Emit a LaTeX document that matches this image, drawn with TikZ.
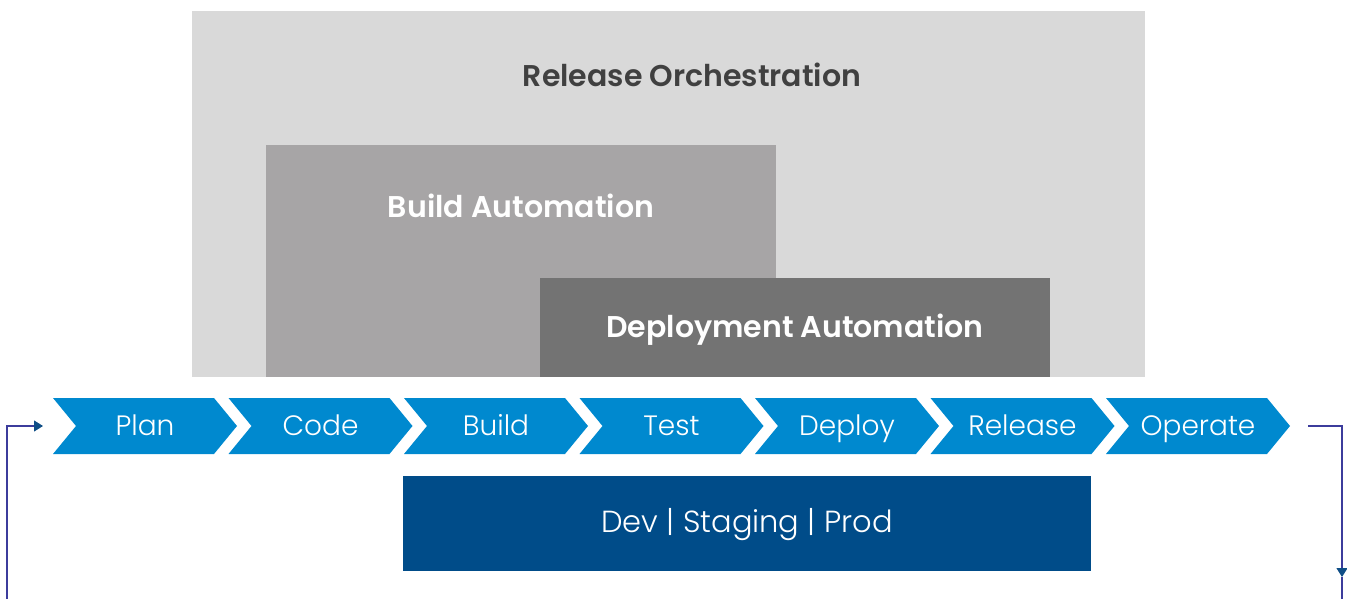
\documentclass[tikz,border=0pt]{standalone}
\usepackage{fontspec}
\setmainfont{Poppins}[UprightFont=* Light, BoldFont=* SemiBold]
\usetikzlibrary{arrows.meta}
\definecolor{orchgray}{HTML}{D9D9D9}
\definecolor{buildgray}{HTML}{A7A5A6}
\definecolor{deploygray}{HTML}{737373}
\definecolor{headtext}{HTML}{404040}
\definecolor{stageblue}{HTML}{0089CF}
\definecolor{envblue}{HTML}{004C89}
\definecolor{loopline}{HTML}{3C3C9C}
\definecolor{looptip}{HTML}{0F4E86}
\tikzset{
  layer/.style={anchor=north west, inner sep=0pt, outer sep=0pt},
  layerlabel/.style={anchor=base, inner sep=0pt, font=\bfseries\fontsize{30}{34}\selectfont},
  stagelabel/.style={anchor=base, inner sep=0pt, text=white, font=\fontsize{28}{32}\selectfont},
  envlabel/.style={anchor=base, inner sep=0pt, text=white, font=\fontsize{30.5}{34}\selectfont},
  chevron/.style={fill=stageblue},
  loop/.style={draw=loopline, line width=1.2pt},
  looptipstyle/.style={-{Triangle[length=9pt,width=11pt,fill=looptip,color=looptip]}}
}
\begin{document}
\begin{tikzpicture}[x=1pt,y=-1pt]
\useasboundingbox (0,0) rectangle (1347,599);

% nested automation layers
\node[layer, fill=orchgray, minimum width=953pt, minimum height=366pt] (orch) at (192,11) {};
\node[layer, fill=buildgray, minimum width=510pt, minimum height=232pt] (build) at (266,145) {};
\node[layer, fill=deploygray, minimum width=510pt, minimum height=99pt] (deploy) at (540,278) {};

\node[layerlabel, text=headtext] (orchlbl) at (692,87) {Release Orchestration};
\node[layerlabel, text=white] (buildlbl) at (521,217) {Build Automation};
\node[layerlabel, text=white] (deploylbl) at (795,337) {Deployment Automation};

% pipeline stages
\foreach \name [count=\i from 0] in {Plan,Code,Build,Test,Deploy,Release,Operate} {
  \pgfmathsetmacro{\xo}{53+175.5*\i}
  \fill[chevron] (\xo,398) -- ++(161,0) -- ++(23,28) -- ++(-23,28) -- ++(-161,0) -- ++(23,-28) -- cycle;
  \node[stagelabel] (stage\i) at (\xo+92,435.5) {\name};
}

% environments bar
\node[layer, fill=envblue, minimum width=688pt, minimum height=95pt] (env) at (403,476) {};
\node[envlabel] (envlbl) at (747,532.5) {Dev | Staging | Prod};

% feedback loop
\coordinate (loopinend) at (43,426);
\coordinate (loopinbase) at (7,599);
\coordinate (loopoutstart) at (1308,426);
\coordinate (loopoutmid) at (1342,577);
\coordinate (loopoutend) at (1342,599);
\draw[loop, looptipstyle] (loopinbase) |- (loopinend);
\draw[loop, looptipstyle] (loopoutstart) -| (loopoutmid);
\draw[loop] (loopoutmid) -- (loopoutend);
\end{tikzpicture}
\end{document}
